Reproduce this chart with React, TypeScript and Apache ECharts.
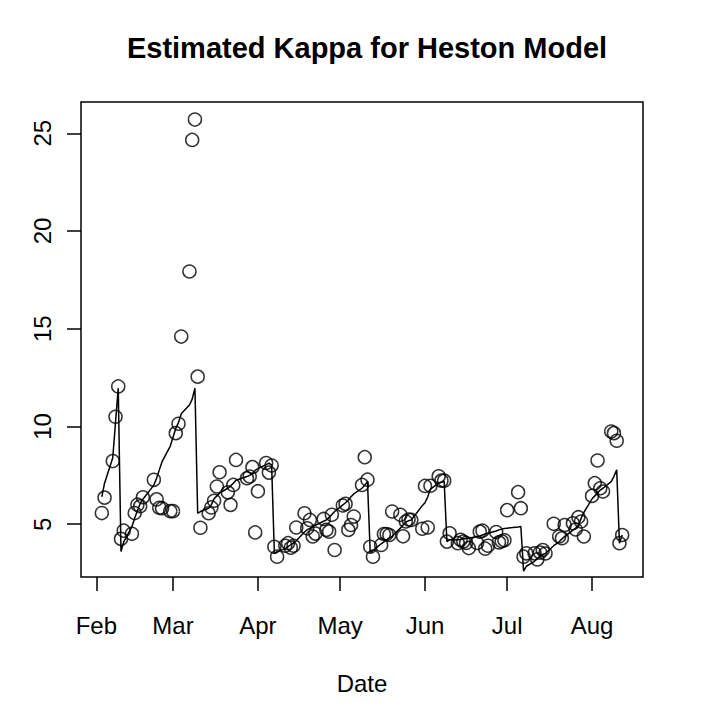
import React, { useEffect, useRef } from "react";
import * as echarts from "echarts";

const dates: string[] = [
  "2011-02-03", "2011-02-04", "2011-02-07", "2011-02-08", "2011-02-09", "2011-02-10", "2011-02-11",
  "2011-02-14", "2011-02-15", "2011-02-16", "2011-02-17", "2011-02-18",
  "2011-02-22", "2011-02-23", "2011-02-24", "2011-02-25", "2011-02-28",
  "2011-03-01", "2011-03-02", "2011-03-03", "2011-03-04",
  "2011-03-07", "2011-03-08", "2011-03-09", "2011-03-10", "2011-03-11",
  "2011-03-14", "2011-03-15", "2011-03-16", "2011-03-17", "2011-03-18",
  "2011-03-21", "2011-03-22", "2011-03-23", "2011-03-24",
  "2011-03-28", "2011-03-29", "2011-03-30", "2011-03-31", "2011-04-01",
  "2011-04-04", "2011-04-05", "2011-04-06", "2011-04-07", "2011-04-08",
  "2011-04-11", "2011-04-12", "2011-04-13", "2011-04-14", "2011-04-15",
  "2011-04-18", "2011-04-19", "2011-04-20", "2011-04-21", "2011-04-22",
  "2011-04-25", "2011-04-26", "2011-04-27", "2011-04-28", "2011-04-29",
  "2011-05-02", "2011-05-03", "2011-05-04", "2011-05-05", "2011-05-06",
  "2011-05-09", "2011-05-10", "2011-05-11", "2011-05-12", "2011-05-13",
  "2011-05-16", "2011-05-17", "2011-05-18", "2011-05-19", "2011-05-20",
  "2011-05-23", "2011-05-24", "2011-05-25", "2011-05-26", "2011-05-27",
  "2011-05-31", "2011-06-01", "2011-06-02", "2011-06-03",
  "2011-06-06", "2011-06-07", "2011-06-08", "2011-06-09", "2011-06-10",
  "2011-06-13", "2011-06-14", "2011-06-15", "2011-06-16", "2011-06-17",
  "2011-06-20", "2011-06-21", "2011-06-22", "2011-06-23", "2011-06-24",
  "2011-06-27", "2011-06-28", "2011-06-29", "2011-06-30", "2011-07-01",
  "2011-07-05", "2011-07-06", "2011-07-07", "2011-07-08",
  "2011-07-11", "2011-07-12", "2011-07-13", "2011-07-14", "2011-07-15",
  "2011-07-18", "2011-07-20", "2011-07-21", "2011-07-22",
  "2011-07-25", "2011-07-26", "2011-07-27", "2011-07-28", "2011-07-29",
  "2011-08-01", "2011-08-02", "2011-08-03", "2011-08-04", "2011-08-05",
  "2011-08-08", "2011-08-09", "2011-08-10", "2011-08-11", "2011-08-12",
];

const kappa: number[] = [
  5.57, 6.36, 8.23, 10.5, 12.05, 4.25, 4.67,
  4.51, 5.57, 6.0, 5.92, 6.38,
  7.27, 6.27, 5.84, 5.82, 5.67,
  5.67, 9.66, 10.14, 14.6,
  17.93, 24.66, 25.7, 12.55, 4.82,
  5.56, 5.86, 6.2, 6.93, 7.66,
  6.63, 5.99, 7.01, 8.29,
  7.35, 7.44, 7.92, 4.58, 6.69,
  8.13, 7.64, 8.0, 3.85, 3.34,
  3.9, 4.03, 3.8, 3.9, 4.83,
  5.56, 4.79, 5.22, 4.37, 4.52,
  5.27, 4.71, 4.62, 5.48, 3.68,
  5.96, 6.04, 4.71, 4.96, 5.39,
  7.01, 8.43, 7.28, 3.85, 3.34,
  3.94, 4.5, 4.5, 4.45, 5.65,
  5.48, 4.38, 5.14, 5.24, 5.22,
  4.77, 6.96, 4.83, 6.97,
  7.45, 7.23, 7.23, 4.11, 4.54,
  4.03, 4.2, 4.11, 4.04, 3.78,
  4.04, 4.62, 4.67, 3.75, 3.9,
  4.6, 4.07, 4.13, 4.18, 5.72,
  6.64, 5.82, 3.34, 3.51,
  3.51, 3.2, 3.55, 3.68, 3.5,
  5.02, 4.37, 4.28, 4.96,
  5.05, 4.73, 5.36, 5.14, 4.37,
  6.45, 7.1, 8.26, 6.84, 6.67,
  9.74, 9.66, 9.27, 4.03, 4.45,
];

const fitted: number[] = [
  6.4, 7.1, 8.4, 10.2, 11.96, 3.6, 4.1,
  4.88, 5.3, 5.7, 6.05, 6.28,
  7.0, 7.35, 7.78, 8.2, 9.0,
  9.45, 9.9, 10.2, 10.65,
  11.1, 11.4, 11.96, 5.56, 5.65,
  5.82, 6.0, 6.3, 6.45, 6.59,
  6.84, 6.95, 7.1, 7.25,
  7.44, 7.5, 7.61, 7.75, 7.85,
  8.05, 8.12, 8.04, 3.5, 3.6,
  3.75, 3.85, 3.95, 4.03, 4.15,
  4.6, 4.72, 4.79, 4.88, 4.95,
  5.15, 5.22, 5.35, 5.5, 5.65,
  5.99, 6.1, 6.24, 6.4, 6.55,
  6.84, 7.0, 7.18, 3.55, 3.65,
  4.0, 4.1, 4.2, 4.3, 4.37,
  4.8, 4.96, 5.1, 5.18, 5.22,
  5.95, 6.1, 6.4, 6.8,
  7.1, 7.15, 7.2, 4.11, 4.2,
  4.2, 4.22, 4.25, 4.27, 4.28,
  4.37, 4.4, 4.45, 4.5, 4.54,
  4.65, 4.71, 4.75, 4.78, 4.8,
  4.86, 4.88, 2.6, 2.85,
  3.1, 3.26, 3.35, 3.45, 3.51,
  3.9, 4.1, 4.25, 4.37,
  4.7, 4.8, 4.95, 5.3, 5.6,
  6.3, 6.45, 6.6, 6.75, 6.84,
  7.18, 7.45, 7.78, 4.03, 4.45,
];

const monthTicks: string[] = [
  "2011-02-01", "2011-03-01", "2011-04-01", "2011-05-01", "2011-06-01", "2011-07-01", "2011-08-01",
];
const monthLabels: string[] = ["Feb", "Mar", "Apr", "May", "Jun", "Jul", "Aug"];
const yTicks: number[] = [5, 10, 15, 20, 25];

const FONT = "'Liberation Sans', Arial, Helvetica, sans-serif";

function ts(s: string): number {
  return Date.UTC(+s.slice(0, 4), +s.slice(5, 7) - 1, +s.slice(8, 10));
}

export default function App() {
  const ref = useRef<HTMLDivElement>(null);
  useEffect(() => {
    if (!ref.current) return;
    const chart = echarts.init(ref.current, null, { renderer: "svg" });
    const xs = dates.map(ts);
    const xMin0 = Math.min(...xs);
    const xMax0 = Math.max(...xs);
    const xPad = (xMax0 - xMin0) * 0.04;
    const yMin0 = Math.min(...kappa);
    const yMax0 = Math.max(...kappa);
    const yPad = (yMax0 - yMin0) * 0.04;
    const tickTs = monthTicks.map(ts);

    chart.setOption({
      animation: false,
      backgroundColor: "#fff",
      title: {
        text: "Estimated Kappa for Heston Model",
        left: 362,
        textAlign: "center",
        top: 28,
        textStyle: { fontFamily: FONT, fontSize: 29, fontWeight: "bold", color: "#000" },
      },
      grid: {
        left: 81,
        top: 102,
        right: 78,
        bottom: 144,
        show: true,
        borderColor: "#000",
        borderWidth: 1.5,
        backgroundColor: "transparent",
      },
      xAxis: {
        type: "value",
        min: xMin0 - xPad,
        max: xMax0 + xPad,
        splitLine: { show: false },
        axisLine: { show: false },
        axisTick: {
          show: true,
          customValues: tickTs,
          length: 14,
          lineStyle: { color: "#000", width: 1.5 },
        },
        axisLabel: {
          customValues: tickTs,
          formatter: (v: number) => {
            const i = tickTs.findIndex((t) => Math.abs(t - v) < 3600000);
            return i >= 0 ? monthLabels[i] : "";
          },
          margin: 36,
          fontSize: 24,
          fontFamily: FONT,
          color: "#000",
        },
        name: "Date",
        nameLocation: "middle",
        nameGap: 94,
        nameTextStyle: { fontSize: 24, fontFamily: FONT, color: "#000" },
      },
      yAxis: {
        type: "value",
        min: yMin0 - yPad,
        max: yMax0 + yPad,
        splitLine: { show: false },
        axisLine: { show: false },
        axisTick: {
          show: true,
          customValues: yTicks,
          length: 14,
          lineStyle: { color: "#000", width: 1.5 },
        },
        axisLabel: {
          customValues: yTicks,
          rotate: 90,
          margin: 27,
          fontSize: 24,
          fontFamily: FONT,
          color: "#000",
        },
      },
      series: [
        {
          name: "Kappa",
          type: "scatter",
          data: xs.map((x, i) => [x, kappa[i]]),
          symbol: "circle",
          symbolSize: 13,
          itemStyle: { color: "rgba(0,0,0,0)", borderColor: "#000", borderWidth: 1.5 },
          emphasis: { disabled: true },
          z: 3,
        },
        {
          name: "Fitted",
          type: "line",
          data: xs.map((x, i) => [x, fitted[i]]),
          showSymbol: false,
          symbol: "none",
          lineStyle: { color: "#000", width: 1.5 },
          emphasis: { disabled: true },
          z: 2,
        },
      ],
    });
    return () => chart.dispose();
  }, []);
  return (
    <div
      ref={ref}
      style={{ position: "fixed", left: 0, top: 0, width: 721, height: 721, background: "#fff" }}
    />
  );
}
